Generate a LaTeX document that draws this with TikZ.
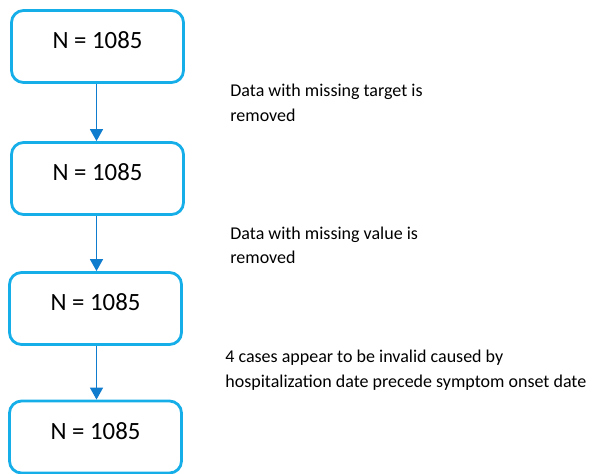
\documentclass[tikz,border=0pt]{standalone}
\usepackage{fontspec}
\setmainfont{Carlito}
\usetikzlibrary{arrows.meta}

\definecolor{boxblue}{RGB}{22,174,232}
\definecolor{arrowblue}{RGB}{16,124,206}

\begin{document}
\begin{tikzpicture}[x=0.5pt, y=-0.5pt,
    countbox/.style={draw=boxblue, line width=1.4pt, rounded corners=6pt,
      minimum width=86pt, minimum height=36pt, text depth=6pt,
      font=\fontsize{12.4}{14}\selectfont},
    note/.style={anchor=west, align=left, inner sep=0pt,
      font=\fontsize{9}{12.2}\selectfont},
    flow/.style={draw=arrowblue, line width=0.7pt,
      -{Triangle[length=6pt, width=6.5pt]}}]
      \useasboundingbox (0,0) rectangle (597,473);

      % boxes
      \node[countbox] (n1) at (97.5, 46.5) {N = 1085};
      \node[countbox] (n2) at (97.5, 178.5) {N = 1085};
      \node[countbox] (n3) at (95.5, 308.5) {N = 1085};
      \node[countbox] (n4) at (95.5, 437) {N = 1085};

      % arrows
      \draw[flow] (n1.south -| 96.5,0) -- (n2.north -| 96.5,0);
      \draw[flow] (n2.south -| 96.5,0) -- (n3.north -| 96.5,0);
      \draw[flow] (n3.south -| 96.5,0) -- (n4.north -| 96.5,0);

      % notes
      \node[note] (t1) at (230, 103) {Data with missing target is\\removed};
      \node[note] (t2) at (230, 245) {Data with missing value is\\removed};
      \node[note] (t3) at (225, 370) {4 cases appear to be invalid caused by\\hospitalization date precede symptom onset date};
    \end{tikzpicture}
\end{document}
